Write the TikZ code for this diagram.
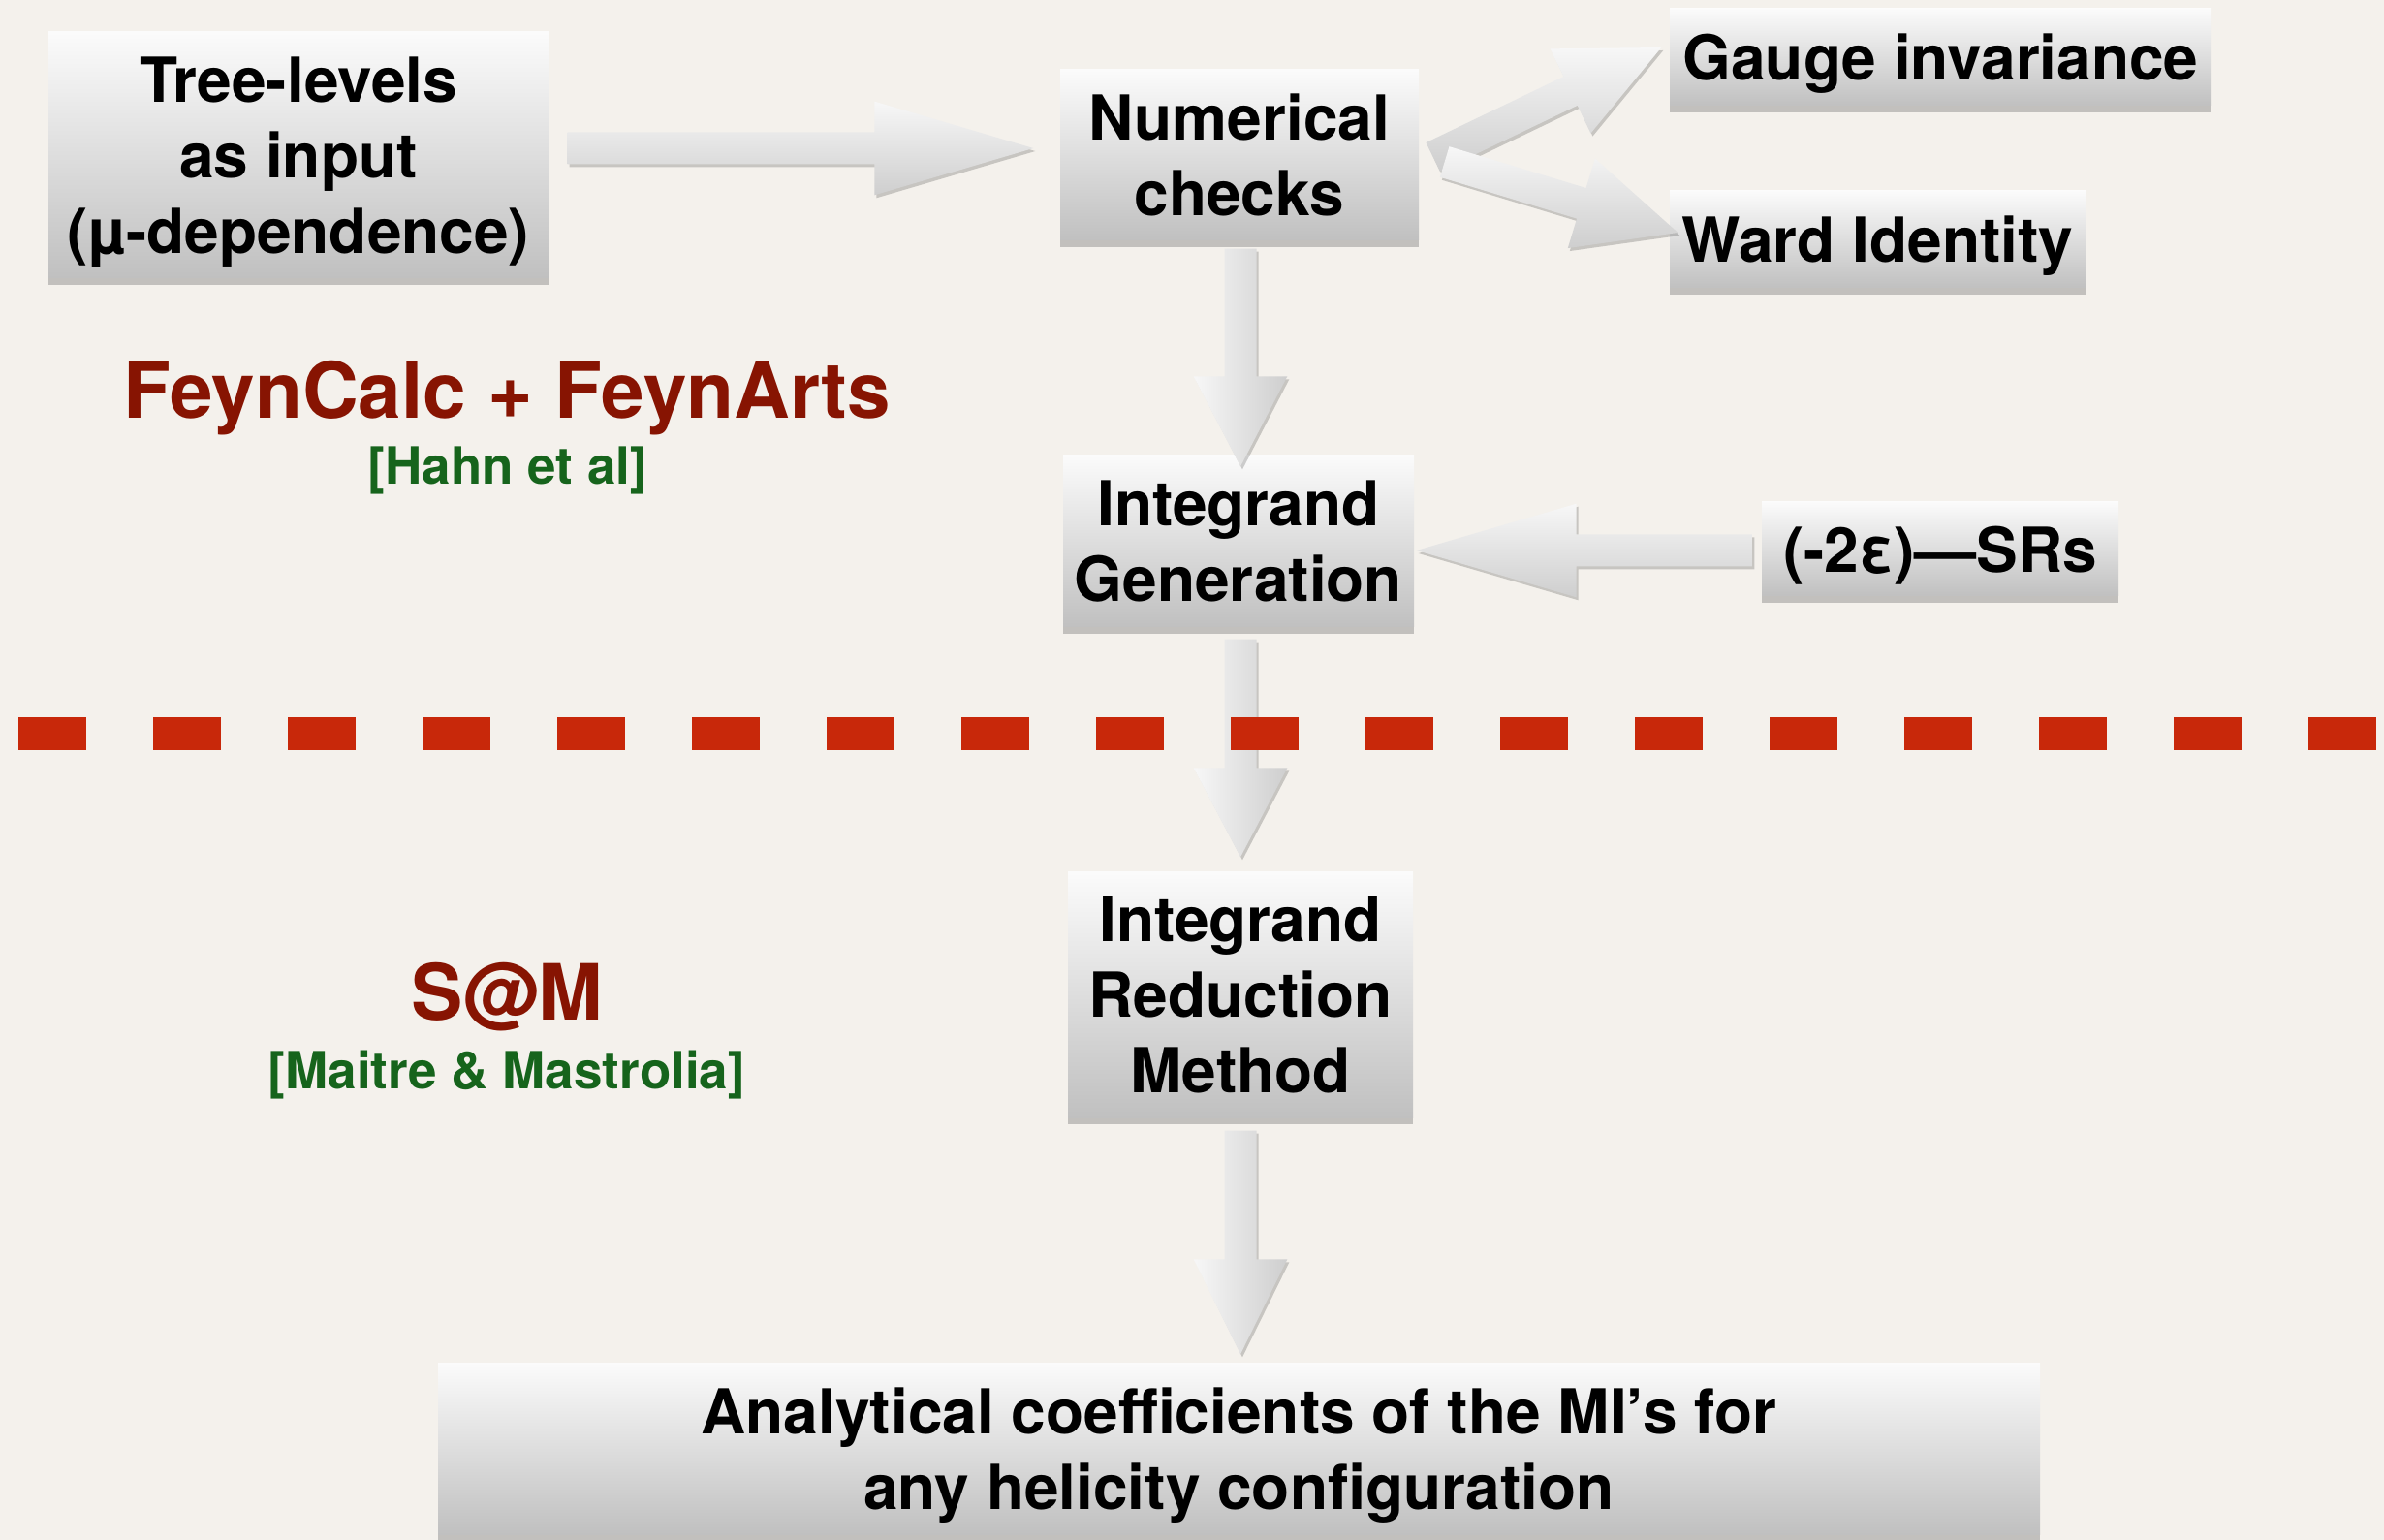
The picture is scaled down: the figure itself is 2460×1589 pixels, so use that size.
\documentclass[tikz,border=0pt]{standalone}
\usepackage{fontspec}
\setmainfont{TeX Gyre Heros}
\usetikzlibrary{calc,shadows}

\definecolor{paper}{RGB}{244,241,236}
\definecolor{boxtop}{RGB}{251,251,251}
\definecolor{boxbot}{RGB}{192,192,192}
\definecolor{arrowlight}{RGB}{247,247,247}
\definecolor{arrowdark}{RGB}{206,206,206}
\definecolor{toolred}{RGB}{135,20,2}
\definecolor{citegreen}{RGB}{22,100,28}
\definecolor{cutred}{RGB}{200,40,10}

\tikzset{
  box/.style={rectangle, inner sep=0pt, align=center, text depth=0pt, top color=boxtop, bottom color=boxbot,
    font=\fontsize{19.2}{23.4}\selectfont\bfseries,
    drop shadow={shadow xshift=0pt, shadow yshift=-2pt, opacity=.35, fill=black!60}},
  tool/.style={anchor=base, inner sep=0pt, text=toolred, font=\fontsize{24}{28}\selectfont\bfseries},
  cite/.style={anchor=base, inner sep=0pt, text=citegreen, font=\fontsize{15.9}{19}\selectfont\bfseries},
  fatarrow/.style={left color=arrowlight, right color=arrowdark,
    drop shadow={shadow xshift=.6pt, shadow yshift=-.9pt, opacity=.18, fill=black}},
  cutline/.style={draw=cutred, line width=10.2pt, dash pattern=on 21pt off 20.7pt},
}

% block arrow: [shading] {tail} {tip} {head length}
\newcommand{\fatarrow}[4][]{%
  \coordinate (neck) at ($(#3)!#4!(#2)$);
  \shade[fatarrow,#1] ($(#2)!4.95pt!90:(#3)$) -- ($(neck)!4.95pt!-90:(#2)$)
    -- ($(neck)!14.5pt!-90:(#2)$) -- (#3) -- ($(neck)!14.5pt!90:(#2)$)
    -- ($(neck)!4.95pt!90:(#2)$) -- ($(#2)!4.95pt!-90:(#3)$) -- cycle;}

\begin{document}
\begin{tikzpicture}[x=0.3pt,y=0.3pt,yscale=-1]
	\fill[paper] (0,0) rectangle (2460,1589);
	\useasboundingbox (0,0) rectangle (2460,1589);
	% boxes
	\node[box, minimum width=154.8pt, minimum height=76.2pt] (tree) at (308,160) {Tree-levels\\as input\\(µ-dependence)};
	\node[box, minimum width=111pt, minimum height=52.8pt] (num) at (1279,160) {Numerical\\checks};
	\node[box, minimum width=167.7pt, minimum height=30pt] (gauge) at (2002.5,59) {Gauge invariance};
	\node[box, minimum width=128.7pt, minimum height=30pt] (ward) at (1937.5,247) {Ward Identity};
	\node[box, minimum width=108.6pt, minimum height=53.1pt] (gen) at (1278,558.5) {Integrand\\Generation};
	\node[box, minimum width=110.4pt, minimum height=29.1pt] (srs) at (2002,566.5) {(-2ε)—SRs};
	\node[box, minimum width=106.8pt, minimum height=75.9pt] (red) at (1280,1026.5) {Integrand\\Reduction\\Method};
	\node[box, minimum width=495.9pt, minimum height=53.1pt] (final) at (1278.5,1494.5) {Analytical coefficients of the MI’s for\\any helicity configuration};
	% arrow ends
	\coordinate (a1s) at ($(tree.east)+(19,-7)$);
	\coordinate (a1e) at ($(num.west)+(-27,-7)$);
	\coordinate (a2s) at ($(num.south)+(1,8)$);
	\coordinate (a2e) at ($(gen.north)+(2,12)$);
	\coordinate (a3s) at ($(gen.south)+(2,12)$);
	\coordinate (a3e) at ($(red.north)+(0,-15)$);
	\coordinate (a4s) at ($(red.south)+(0,13)$);
	\coordinate (a4e) at ($(final.north)+(1.5,-8)$);
	\coordinate (a5s) at ($(srs.west)+(-9,1.5)$);
	\coordinate (a5e) at ($(gen.east)+(2,9.5)$);
	\coordinate (a6s) at ($(num.east)+(14,2)$);
	\coordinate (a6e) at ($(gauge.west)+(-8,-10)$);
	\coordinate (a7s) at ($(num.east)+(26,7)$);
	\coordinate (a7e) at ($(ward.west)+(9,-7)$);
	% arrows
	\fatarrow[top color=arrowlight, bottom color=arrowdark]{a1s}{a1e}{49.2pt}
	\fatarrow{a2s}{a2e}{27.9pt}
	\fatarrow{a3s}{a3e}{27.6pt}
	\fatarrow{a4s}{a4e}{29.4pt}
	\fatarrow[top color=arrowlight, bottom color=arrowdark]{a5s}{a5e}{49.5pt}
	\fatarrow[top color=arrowlight, bottom color=arrowdark]{a6s}{a6e}{31.2pt}
	\fatarrow[top color=arrowlight, bottom color=arrowdark]{a7s}{a7e}{31.2pt}
	% separator
	\draw[cutline] (19,757) -- (2452,757);
	% tools
	\node[tool] (fc) at (523,432) {FeynCalc + FeynArts};
	\node[cite] (hahn) at (524,500) {[Hahn et al]};
	\node[tool] (sam) at (523,1052) {S@M};
	\node[cite] (mm) at (523,1123) {[Maitre \& Mastrolia]};
\end{tikzpicture}
\end{document}
